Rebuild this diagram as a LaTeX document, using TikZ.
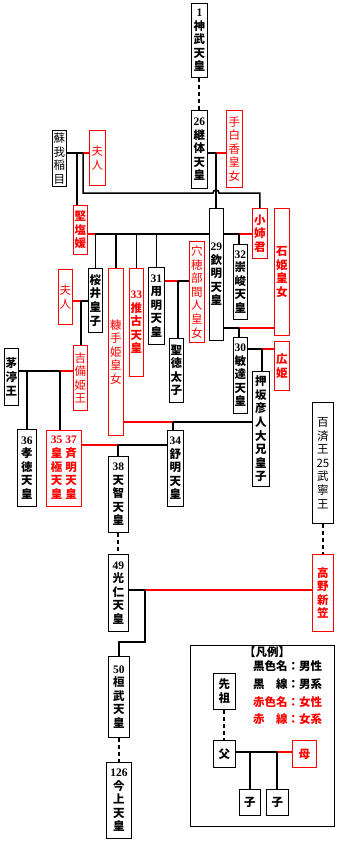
\documentclass[tikz,border=0pt]{standalone}
\usepackage{fontspec}
\newfontfamily\jpfont{Noto Sans CJK JP}
\newfontfamily\digitfont{Liberation Serif}
\newcommand\namefont{\jpfont\bfseries\fontsize{11.5}{13.6}\selectfont}
\newcommand\plainfont{\jpfont\fontsize{11.5}{13.6}\selectfont}
\newcommand\nr[1]{{\digitfont\bfseries #1}}

\begin{document}
\begin{tikzpicture}[x=1pt,y=-1pt]
        % =========================================================
        % Massstab: 1 Einheit = 1 Pixel der Vorlage, y nach unten
        % =========================================================
        \tikzset{
            person/.style={draw,line width=0.8pt,inner sep=0pt,align=center,
                anchor=north west,font=\namefont},
            woman/.style={person,draw=red,text=red},
            plain/.style={font=\plainfont},
            maleline/.style={line width=1.5pt},
            femaleline/.style={line width=1.5pt,draw=red},
            lineage/.style={line width=2pt,dash pattern=on 4pt off 3pt}
        }
        \useasboundingbox (0,0) rectangle (344,843);

        % ---------------------------------------------------------
        % Personen
        % ---------------------------------------------------------
        \node[person,minimum width=16pt,minimum height=74pt] (jimmu) at (191,3) {\nr{1}\\神\\武\\天\\皇};
        \node[person,minimum width=16pt,minimum height=78pt] (keitai) at (191,110) {\nr{26}\\継\\体\\天\\皇};
        \node[woman,plain,minimum width=16pt,minimum height=77pt] (tashiraka) at (226,110) {手\\白\\香\\皇\\女};
        \node[person,plain,minimum width=14pt,minimum height=56pt] (iname) at (52,130) {蘇\\我\\稲\\目};
        \node[woman,plain,minimum width=16pt,minimum height=55pt] (fujinA) at (89,130) {夫\\人};
        \node[woman,minimum width=14pt,minimum height=49pt] (kitashi) at (73,205) {堅\\塩\\媛};
        \node[person,minimum width=14pt,minimum height=132pt] (kinmei) at (209,208) {\nr{29}\\欽\\明\\天\\皇};
        \node[woman,minimum width=15pt,minimum height=50pt] (oane) at (252,208) {小\\姉\\君};
        \node[woman,minimum width=15pt,minimum height=127pt] (ishihime) at (274,208) {石\\姫\\皇\\女};
        \node[person,minimum width=14pt,minimum height=75pt] (sushun) at (233,244) {\nr{32}\\崇\\峻\\天\\皇};
        \node[person,minimum width=14pt,minimum height=64pt] (sakurai) at (88,268) {桜\\井\\皇\\子};
        \node[woman,plain,minimum width=14pt,minimum height=55pt] (fujinB) at (58,269) {夫\\人};
        \node[woman,plain,minimum width=15pt,minimum height=167pt] (nukate) at (108,268) {糠\\手\\姫\\皇\\女};
        \node[woman,minimum width=14pt,minimum height=108pt] (suiko) at (129,268) {\nr{33}\\推\\古\\天\\皇};
        \node[person,minimum width=16pt,minimum height=77pt] (yomei) at (148,267) {\nr{31}\\用\\明\\天\\皇};
        \node[woman,plain,minimum width=15pt,minimum height=101pt] (anahobe) at (189,241) {穴\\穂\\部\\間\\人\\皇\\女};
        \node[person,minimum width=14pt,minimum height=64pt] (shotoku) at (169,338) {聖\\徳\\太\\子};
        \node[person,minimum width=14pt,minimum height=76pt] (bidatsu) at (233,337) {\nr{30}\\敏\\達\\天\\皇};
        \node[woman,minimum width=15pt,minimum height=49pt] (hirohime) at (274,341) {広\\姫};
        \node[person,minimum width=17pt,minimum height=115pt] (oshisaka) at (252,371) {押\\坂\\彦\\人\\大\\兄\\皇\\子};
        \node[person,minimum width=14pt,minimum height=57pt] (chinu) at (4,348) {茅\\渟\\王};
        \node[woman,plain,minimum width=14pt,minimum height=65pt] (kibi) at (73,345) {吉\\備\\姫\\王};
        \node[person,minimum width=19pt,minimum height=77pt] (kotoku) at (17,429) {\nr{36}\\孝\\徳\\天\\皇};
        \node[woman,minimum width=35pt,minimum height=76pt] (kogyoku) at (46,430)
            {\begin{tabular}{@{}c@{\hspace{3pt}}c@{}}\nr{35}&\nr{37}\\皇&斉\\極&明\\天&天\\皇&皇\end{tabular}};
        \node[person,minimum width=16pt,minimum height=76pt] (jomei) at (167,430) {\nr{34}\\舒\\明\\天\\皇};
        \node[person,minimum width=20pt,minimum height=76pt] (tenji) at (108,456) {\nr{38}\\天\\智\\天\\皇};
        \node[person,plain,minimum width=21pt,minimum height=121pt] (muryeong) at (312,402) {百\\済\\王\\25\\武\\寧\\王};
        \node[person,minimum width=20pt,minimum height=77pt] (konin) at (108,554) {\nr{49}\\光\\仁\\天\\皇};
        \node[woman,minimum width=21pt,minimum height=77pt] (takano) at (312,554) {高\\野\\新\\笠};
        \node[person,minimum width=21pt,minimum height=81pt] (kanmu) at (108,656) {\nr{50}\\桓\\武\\天\\皇};
        \node[person,minimum width=25pt,minimum height=76pt] (kinjo) at (106,762) {\nr{126}\\今\\上\\天\\皇};

        % ---------------------------------------------------------
        % Verbindungen
        % ---------------------------------------------------------
        \draw[lineage] (jimmu.south) -- (keitai.north);

        % 継体 -- 手白香皇女
        \coordinate (kt) at (216,153);
        \draw[maleline] (keitai.east |- kt) -- (kt);
        \draw[femaleline] (kt) -- (tashiraka.west |- kt);
        \draw[maleline] (kt) -- (kt |- kinmei.north);

        % 蘇我稲目 -- 夫人
        \coordinate (inA) at (77,153);
        \coordinate (inB) at (83,153);
        \coordinate (hop) at (216,193);
        \draw[maleline] (iname.east |- inA) -- (inB);
        \draw[femaleline] (inB) -- (fujinA.west |- inB);
        \draw[maleline] (inA) -- (inA |- kitashi.north);
        \draw[maleline] (inB) |- ([xshift=-3pt]hop)
            arc[start angle=180,end angle=0,radius=3pt] -| (oane.north);

        % 堅塩媛 -- 欽明
        \coordinate (kk) at (95,234);
        \draw[femaleline] (kitashi.east |- kk) -- (kk);
        \draw[maleline] (kk) -- (kinmei.west |- kk);
        \foreach \child in {sakurai,nukate,suiko,yomei}
            \draw[maleline] (\child.north |- kk) -- (\child.north);

        % 欽明 -- 小姉君 / 石姫皇女
        \coordinate (ko) at (239,234);
        \draw[maleline] (kinmei.east |- ko) -- (ko);
        \draw[femaleline] (ko) -- (oane.west |- ko);
        \draw[maleline] (ko) -- (ko |- sushun.north);
        \coordinate (ki) at (239,328);
        \draw[maleline] (kinmei.east |- ki) -- (ki);
        \draw[femaleline] (ki) -- (ishihime.west |- ki);
        \draw[maleline] (ki) -- (ki |- bidatsu.north);

        % 用明 -- 穴穂部間人皇女
        \coordinate (ya) at (178,281);
        \draw[femaleline] (yomei.east |- ya) -- (ya);
        \draw[maleline] (ya) -- (anahobe.west |- ya);
        \draw[maleline] (ya) -- (ya |- shotoku.north);

        % 敏達 -- 広姫
        \coordinate (bh) at (262,349);
        \draw[maleline] (bidatsu.east |- bh) -- (bh);
        \draw[femaleline] (bh) -- (hirohime.west |- bh);
        \draw[maleline] (bh) -- (bh |- oshisaka.north);

        % 夫人 -- 桜井皇子
        \coordinate (fs) at (81,301);
        \draw[femaleline] (fujinB.east |- fs) -- (fs);
        \draw[maleline] (fs) -- (sakurai.west |- fs);
        \draw[maleline] (fs) -- (fs |- kibi.north);

        % 茅渟王 -- 吉備姫王
        \coordinate (ckA) at (27,371);
        \coordinate (ckB) at (60,371);
        \draw[maleline] (chinu.east |- ckA) -- (ckB);
        \draw[femaleline] (ckB) -- (kibi.west |- ckB);
        \draw[maleline] (ckA) -- (ckA |- kotoku.north);
        \draw[maleline] (ckB) -- (ckB |- kogyoku.north);

        % 糠手姫皇女 -- 押坂彦人大兄皇子
        \coordinate (no) at (173,422);
        \draw[femaleline] (nukate.east |- no) -- (no);
        \draw[maleline] (no) -- (oshisaka.west |- no);
        \draw[maleline] (no) -- (no |- jomei.north);

        % 皇極 -- 舒明
        \coordinate (kj) at (118,445);
        \draw[femaleline] (kogyoku.east |- kj) -- (kj);
        \draw[maleline] (kj) -- (jomei.west |- kj);
        \draw[maleline] (kj) -- (kj |- tenji.north);

        \draw[lineage] (tenji.south) -- (konin.north);
        \draw[lineage] (muryeong.south) -- (takano.north);

        % 光仁 -- 高野新笠
        \coordinate (kn) at (145,590);
        \coordinate (bend) at (145,642);
        \draw[maleline] (konin.east |- kn) -- (kn);
        \draw[femaleline] (kn) -- (takano.west |- kn);
        \draw[maleline] (kn) -- (bend) -| (kanmu.north);

        \draw[lineage] (kanmu.south) -- (kinjo.north);

        % ---------------------------------------------------------
        % Legende
        % ---------------------------------------------------------
        \draw[line width=0.8pt] (190,645) rectangle (334,826);
        \node[font=\namefont] (legtitle) at (267,652) {【凡例】};
        \node[font=\namefont,anchor=west,inner sep=0pt] (legA) at (253,666) {黒色名：男性};
        \node[font=\namefont,anchor=west,inner sep=0pt] (legB) at (253,684) {黒　線：男系};
        \node[font=\namefont,anchor=west,inner sep=0pt,text=red] (legC) at (253,702) {赤色名：女性};
        \node[font=\namefont,anchor=west,inner sep=0pt,text=red] (legD) at (253,719) {赤　線：女系};

        \node[person,minimum width=22pt,minimum height=36pt] (sosen) at (213,673) {先\\祖};
        \node[person,minimum width=22pt,minimum height=27pt] (chichi) at (213,740) {父};
        \node[woman,minimum width=24pt,minimum height=27pt] (haha) at (292,740) {母};
        \node[person,minimum width=21pt,minimum height=26pt] (koA) at (239,789) {子};
        \node[person,minimum width=22pt,minimum height=26pt] (koB) at (266,789) {子};

        \draw[lineage] (sosen.south) -- (chichi.north);
        \coordinate (fm) at (277,752);
        \draw[maleline] (chichi.east |- fm) -- (fm);
        \draw[femaleline] (fm) -- (haha.west |- fm);
        \draw[maleline] (koA.north |- fm) -- (koA.north);
        \draw[maleline] (fm) -- (fm |- koB.north);
\end{tikzpicture}
\end{document}
